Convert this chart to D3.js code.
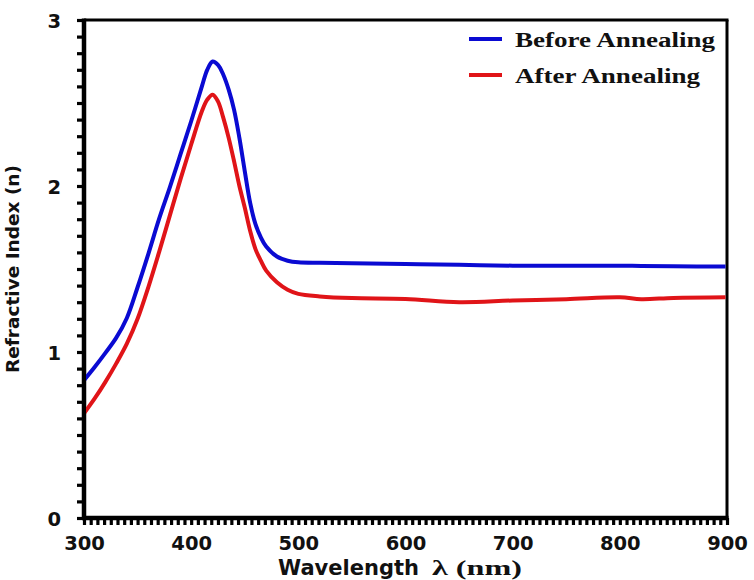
<!DOCTYPE html>
<html>
<head>
<meta charset="utf-8">
<script src="https://cdn.jsdelivr.net/npm/d3@7"></script>
<style>
  html, body { margin: 0; padding: 0; background: #fff; }
  svg { display: block; }
</style>
</head>
<body>
<svg id="chart" width="754" height="580"></svg>
<script>
// Refractive index of the film vs. wavelength, before and after annealing
const wavelength = [300, 310, 320, 330, 340, 350, 360, 370, 380, 390, 400, 410, 415, 420, 425, 430, 435, 440, 445, 450, 455, 460, 465, 470, 480, 490, 500, 520, 550, 600, 650, 700, 750, 800, 820, 850, 900];
const beforeAnnealing = [0.83, 0.91, 0.995, 1.085, 1.205, 1.39, 1.59, 1.80, 1.99, 2.19, 2.39, 2.60, 2.70, 2.75, 2.73, 2.67, 2.58, 2.46, 2.29, 2.09, 1.90, 1.77, 1.69, 1.635, 1.575, 1.55, 1.54, 1.537, 1.535, 1.53, 1.525, 1.52, 1.52, 1.52, 1.518, 1.516, 1.515];
const afterAnnealing = [0.63, 0.72, 0.82, 0.93, 1.05, 1.20, 1.39, 1.60, 1.82, 2.04, 2.25, 2.45, 2.52, 2.55, 2.51, 2.41, 2.29, 2.15, 2.00, 1.87, 1.73, 1.62, 1.55, 1.49, 1.42, 1.375, 1.35, 1.335, 1.325, 1.32, 1.30, 1.31, 1.318, 1.33, 1.318, 1.326, 1.33];

const xTickLabels = [300, 400, 500, 600, 700, 800, 900];
const yTickLabels = [0, 1, 2, 3];
const seriesNames = ["Before Annealing", "After Annealing"];
const seriesColors = ["#0a0ad2", "#e01418"];

const svg = d3.select("#chart");
const plotLeft = 84, plotRight = 727, plotTop = 20, plotBottom = 518;

const x = d3.scaleLinear().domain([300, 900]).range([plotLeft, plotRight]);
const y = d3.scaleLinear().domain([0, 3]).range([plotBottom, plotTop]);

const sans = "'DejaVu Sans', sans-serif";
const serif = "'Liberation Serif', 'Times New Roman', serif";

// frame: top and right borders
svg.append("line").attr("x1", plotLeft).attr("x2", plotRight + 1.5).attr("y1", plotTop).attr("y2", plotTop)
  .attr("stroke", "#000").attr("stroke-width", 3);
svg.append("line").attr("x1", plotRight).attr("x2", plotRight).attr("y1", plotTop).attr("y2", plotBottom)
  .attr("stroke", "#000").attr("stroke-width", 3);

// y axis: minor ticks every 0.1 plus labelled majors
const yMinor = d3.range(0, 30.5, 1).map(d => d / 10);
const yAxis = svg.append("g").attr("transform", `translate(${plotLeft},0)`)
  .call(d3.axisLeft(y).tickValues(yMinor).tickSize(7).tickFormat(""));
yAxis.select(".domain").attr("stroke-width", 4.5).attr("d", `M0,${plotTop - 1.5}V${plotBottom + 2}`);
yAxis.selectAll(".tick line").attr("stroke-width", 3.2);

const yLab = svg.append("g").attr("transform", `translate(${plotLeft},0)`)
  .call(d3.axisLeft(y).tickValues(yTickLabels).tickSize(0).tickPadding(23).tickFormat(d3.format("d")));
yLab.select(".domain").remove();
yLab.selectAll("text").attr("font-family", sans).attr("font-weight", "bold")
  .attr("font-size", 19.5).attr("fill", "#111").attr("dy", "0.36em");

// x axis: minor ticks plus labelled majors
const xMinor = d3.range(0, 96.5, 1).map(i => 300 + i * 6.25);
const xAxis = svg.append("g").attr("transform", `translate(0,${plotBottom})`)
  .call(d3.axisBottom(x).tickValues(xMinor).tickSize(7).tickFormat(""));
xAxis.select(".domain").attr("stroke-width", 4.5).attr("d", `M${plotLeft - 2},0H${plotRight + 1.5}`);
xAxis.selectAll(".tick line").attr("stroke-width", 3.2);

const xLab = svg.append("g").attr("transform", `translate(0,${plotBottom})`)
  .call(d3.axisBottom(x).tickValues(xTickLabels).tickSize(0).tickPadding(18).tickFormat(d3.format("d")));
xLab.select(".domain").remove();
xLab.selectAll("text").attr("font-family", sans).attr("font-weight", "bold")
  .attr("font-size", 19.5).attr("fill", "#111");

// axis titles
svg.append("text")
  .attr("transform", "translate(19,269) rotate(-90)")
  .attr("text-anchor", "middle")
  .attr("font-family", sans).attr("font-weight", "bold").attr("font-size", 18.5)
  .attr("fill", "#111")
  .text("Refractive Index (n)");

svg.append("text")
  .attr("x", 278).attr("y", 575)
  .attr("font-family", sans).attr("font-weight", "bold").attr("font-size", 21)
  .attr("fill", "#111")
  .text("Wavelength");
svg.append("text")
  .attr("x", 432).attr("y", 575)
  .attr("font-family", serif).attr("font-weight", "bold").attr("font-size", 20)
  .attr("textLength", 90).attr("lengthAdjust", "spacingAndGlyphs")
  .attr("fill", "#111")
  .text("λ (nm)");

// curves
const series = [beforeAnnealing, afterAnnealing];
const line = d3.line()
  .x((d, i) => x(wavelength[i]))
  .y(d => y(d))
  .curve(d3.curveCatmullRom.alpha(0.5));

svg.append("defs").append("clipPath").attr("id", "plot")
  .append("rect").attr("x", plotLeft + 2).attr("y", plotTop)
  .attr("width", plotRight - plotLeft - 3.5).attr("height", plotBottom - plotTop - 2);

series.forEach((vals, k) => {
  svg.append("path")
    .datum(vals)
    .attr("clip-path", "url(#plot)")
    .attr("fill", "none")
    .attr("stroke", seriesColors[k])
    .attr("stroke-width", 4)
    .attr("stroke-linejoin", "round")
    .attr("d", line);
});

// legend
const legendRows = [
  { y: 39, len: 200 },
  { y: 75, len: 185 }
];
seriesNames.forEach((name, k) => {
  const row = legendRows[k];
  svg.append("line")
    .attr("x1", 469).attr("x2", 502).attr("y1", row.y).attr("y2", row.y)
    .attr("stroke", seriesColors[k]).attr("stroke-width", 4);
  svg.append("text")
    .attr("x", 515).attr("y", row.y + 7.5)
    .attr("font-family", serif).attr("font-weight", "bold").attr("font-size", 20)
    .attr("textLength", row.len).attr("lengthAdjust", "spacingAndGlyphs")
    .attr("fill", "#111")
    .text(name);
});
</script>
</body>
</html>
